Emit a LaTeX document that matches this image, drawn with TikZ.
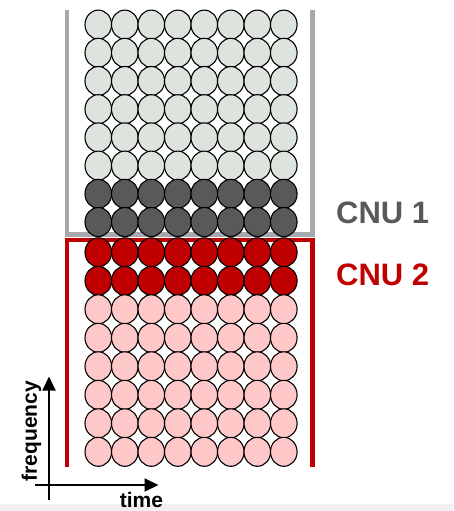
\documentclass[tikz,border=0pt]{standalone}
\usepackage{fontspec}
\setmainfont{Liberation Sans}
\usetikzlibrary{shapes.geometric,arrows.meta}
\definecolor{idlecell}{RGB}{221,228,222}
\definecolor{cnuonecell}{RGB}{88,89,91}
\definecolor{cnutwocell}{RGB}{192,0,0}
\definecolor{pinkcell}{RGB}{255,200,200}
\definecolor{bracketgray}{RGB}{168,169,172}
\definecolor{bandgray}{RGB}{240,240,240}

\begin{document}
\begin{tikzpicture}[x=1pt,y=-1pt]
	\tikzstyle{cell}=[ellipse,draw=black,line width=1.1pt,minimum width=26.6pt,minimum height=29pt,inner sep=0pt]
	\tikzstyle{cnulabel}=[font=\bfseries\fontsize{31}{33}\selectfont,anchor=base west,inner sep=0pt]
	\tikzstyle{axislabel}=[font=\bfseries\fontsize{21}{23}\selectfont,inner sep=0pt]
	\tikzstyle{axis}=[line width=2pt,-{Triangle[length=14pt,width=13pt]}]
	\useasboundingbox (0,0) rectangle (453,511);
	\fill[bandgray] (0,504) rectangle (453,511);
	% CNU 1 bracket
	\coordinate (g1) at (67,10);
	\coordinate (g2) at (67,234.5);
	\coordinate (g3) at (312.5,234.5);
	\coordinate (g4) at (312.5,10);
	\draw[bracketgray,line width=4.5pt] (g1) -- (g2) -- (g3) -- (g4);
	% CNU 2 bracket
	\coordinate (r1) at (67,467);
	\coordinate (r2) at (67,240);
	\coordinate (r3) at (312.5,240);
	\coordinate (r4) at (312.5,467);
	\draw[cnutwocell,line width=4.5pt] (r1) -- (r2) -- (r3) -- (r4);
	% resource grid
	\foreach \c in {0,...,7} {
		\foreach \r in {0,...,5}
			\node[cell,fill=idlecell] (u\r-\c) at (98.3+26.5*\c,24.6+28.2*\r) {};
		\foreach \r in {6,7}
			\node[cell,fill=cnuonecell] (u\r-\c) at (98.3+26.5*\c,24.6+28.2*\r) {};
		\foreach \r in {0,1}
			\node[cell,fill=cnutwocell] (l\r-\c) at (98.3+26.5*\c,252.3+28.5*\r) {};
		\foreach \r in {2,...,7}
			\node[cell,fill=pinkcell] (l\r-\c) at (98.3+26.5*\c,252.3+28.5*\r) {};
	}
	% labels
	\node[cnulabel,text=cnuonecell] (cnu1) at (336,223) {CNU 1};
	\node[cnulabel,text=cnutwocell] (cnu2) at (336,285.5) {CNU 2};
	% axes
	\coordinate (fbot) at (49,500);
	\coordinate (ftop) at (49,376.5);
	\coordinate (tleft) at (35,485);
	\coordinate (tright) at (158.5,485);
	\draw[axis] (fbot) -- (ftop);
	\draw[axis] (tleft) -- (tright);
	\node[axislabel,rotate=90] (freq) at (31.5,431) {frequency};
	\node[axislabel,anchor=base,text depth=0pt] (time) at (141.5,507) {time};
\end{tikzpicture}
\end{document}
